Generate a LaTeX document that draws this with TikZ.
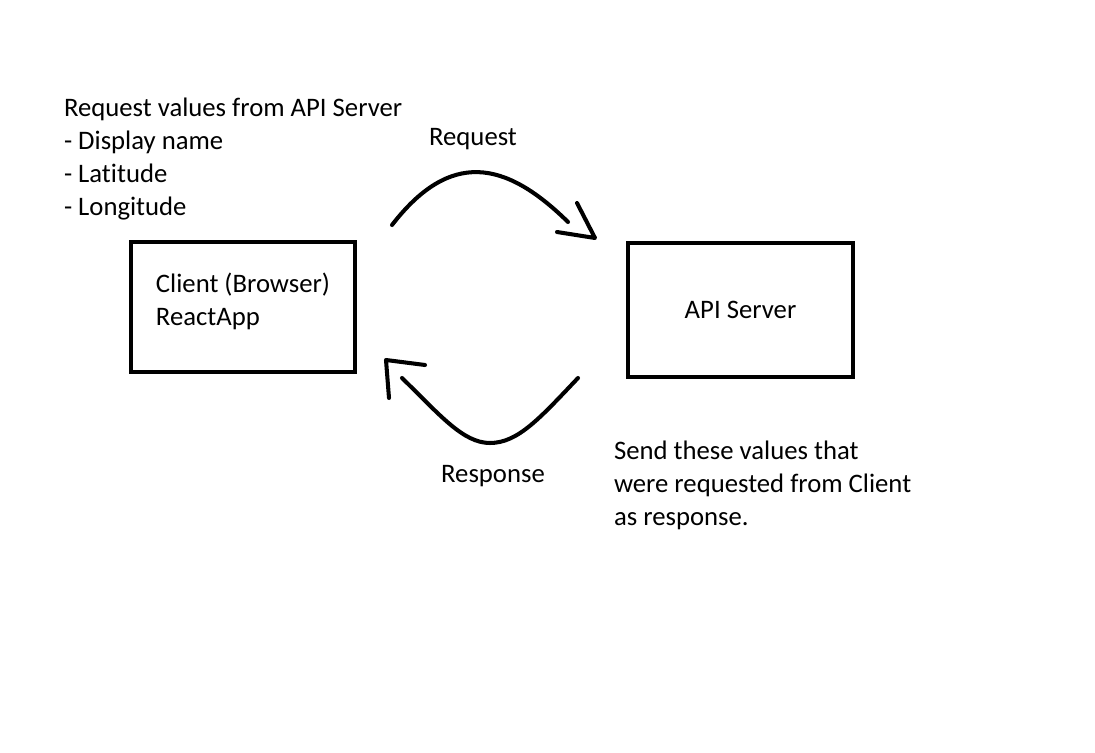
\documentclass[tikz,border=0pt]{standalone}
\usepackage{fontspec}
\setmainfont{Carlito}[Ligatures=NoCommon]
\usetikzlibrary{positioning}

\begin{document}
\begin{tikzpicture}[x=0.02cm, y=-0.02cm, font=\fontsize{15.2}{18.8}\selectfont, line width=2.3pt]
  % ------- styles -------
  \tikzstyle{box}=[draw, inner sep=0pt, align=left]
  \tikzstyle{note}=[inner sep=0pt, align=left, anchor=north west]
  \tikzstyle{stroke}=[line cap=round, line join=round]

  \useasboundingbox (0,0) rectangle (1095,753);

  % ------- nodes -------
  \node[box, minimum width=4.48cm, minimum height=2.6cm, text depth=0.3cm] (client) at (243,307) {Client (Browser)\\ReactApp};
  \node[box, minimum width=4.5cm, minimum height=2.68cm] (api) at (740.5,310) {API Server};

  \node[note] (ask) at (62,96) {Request values from API Server\\- Display name\\- Latitude\\- Longitude};
  \node[note] (send) at (612,439) {Send these values that\\were requested from Client\\as response.};
  \node[inner sep=0pt] (reqlabel) at (473,139) {Request};
  \node[inner sep=0pt] (reslabel) at (493,476) {Response};

  % ------- connector ends -------
  \coordinate (reqstart) at (392,225);
  \coordinate (reqend) at (568,222);
  \coordinate (reqtip) at (595,238);
  \coordinate (resstart) at (578,378);
  \coordinate (resend) at (402,378);
  \coordinate (restip) at (386,360);

  % ------- arrows -------
  \draw[stroke] (reqstart) .. controls (450,150) and (505,160) .. (reqend);
  \draw[stroke] (577,203) -- (reqtip) -- (557,232);
  \draw[stroke] (resstart) .. controls (540,418) and (518,443) .. (490,443) .. controls (463,443) and (440,415) .. (resend);
  \draw[stroke] (425,365) -- (restip) -- (389,398);

\end{tikzpicture}
\end{document}
